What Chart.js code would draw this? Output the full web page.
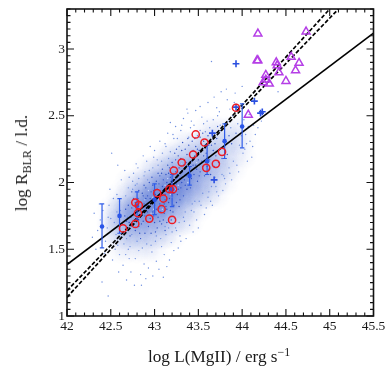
<!DOCTYPE html>
<html lang="en">
<head>
<meta charset="UTF-8">
<title>R-L relation</title>
<script src="https://cdn.jsdelivr.net/npm/chart.js"></script>
<style>
  html, body { margin: 0; padding: 0; background: #fff; }
  #wrap { position: relative; width: 390px; height: 374px; overflow: hidden; font-family: "Liberation Serif", serif; color: #1a1a1a; }
  canvas { position: absolute; left: 0; top: 0; }
  .axisTitle { position: absolute; font-size: 17.2px; white-space: nowrap; line-height: 20px; }
  .axisTitle sup { font-size: 12px; line-height: 0; vertical-align: 6px; }
  .axisTitle sub { font-size: 12px; line-height: 0; vertical-align: -4px; }
  #xTitle { left: 148px; top: 347px; }
  #yTitle { left: 22px; top: 163px; transform: translate(-50%, -50%) rotate(-90deg); }
</style>
</head>
<body>
<div id="wrap">
  <canvas id="chart" width="390" height="374"></canvas>
  <div class="axisTitle" id="xTitle">log L(MgII) / erg s<sup>&minus;1</sup></div>
  <div class="axisTitle" id="yTitle">log R<sub>BLR</sub> / l.d.</div>
</div>
<script>
// cloud density (level 0-9), rows top to bottom
const densityX = [42.2,42.3,42.4,42.5,42.6,42.7,42.8,42.9,43.0,43.1,43.2,43.3,43.4,43.5,43.6,43.7,43.8,43.9,44.0,44.1];
const densityY = [2.5,2.4,2.3,2.2,2.1,2.0,1.9,1.8,1.7,1.6,1.5,1.4];
const densityRows = [
  [0,0,0,0,0,0,0,0,0,0,0,0,0,0,0,0,0,0,0,0],
  [0,0,0,0,0,0,0,0,0,0,0,0,0,0,1,1,1,1,1,0],
  [0,0,0,0,0,0,0,0,0,0,0,1,1,2,2,2,2,2,1,0],
  [0,0,0,0,0,0,0,0,0,1,2,2,3,3,4,3,2,1,1,0],
  [0,0,0,0,0,0,0,1,2,3,4,5,6,5,4,3,2,1,0,0],
  [0,0,0,0,0,1,2,3,5,6,7,7,6,4,3,2,1,0,0,0],
  [0,0,0,0,1,2,4,6,7,8,7,6,4,3,2,1,0,0,0,0],
  [0,0,0,1,3,5,6,7,7,6,5,3,2,1,0,0,0,0,0,0],
  [0,0,0,2,3,5,5,5,4,4,2,2,1,0,0,0,0,0,0,0],
  [0,0,0,1,2,3,3,3,2,2,1,0,0,0,0,0,0,0,0,0],
  [0,0,0,0,1,1,1,1,1,0,0,0,0,0,0,0,0,0,0,0],
  [0,0,0,0,0,0,0,0,0,0,0,0,0,0,0,0,0,0,0,0]
];

// loose dots around the cloud
const outerDots = [[43.65,2.907],[43.47,2.54],[43.71,2.56],[42.95,2.27],[42.51,2.22],[42.87,2.20],[42.58,2.13],[44.41,2.68],[44.00,2.72],[44.09,2.31],[42.47,1.15],[42.40,1.255],[42.85,1.23],
[42.31,1.77],[42.62,2.02],[42.44,1.56],[42.73,1.33],[42.35,1.64],[42.81,2.11],[42.52,1.42],[42.68,1.27],[42.93,1.36],[42.29,1.59],[42.57,1.91],[42.76,2.07],[42.48,1.83],[42.64,1.38],[43.02,1.41],[42.38,1.72],[42.91,2.16],[42.55,1.50],[43.11,1.46],[42.70,1.96],[42.43,1.47],[42.84,1.31],[43.06,2.31],[42.59,1.33],[42.97,1.48],[43.15,2.37],[42.66,2.09],[42.33,1.50],[43.19,1.55],[42.78,1.43],[43.00,2.24],[42.50,1.73],[42.88,1.39],[43.24,2.42],[42.61,1.79],[43.08,1.52],[42.72,1.52],[43.29,1.60],[42.46,1.66],[42.99,2.19],[43.12,2.29],[42.53,1.88],[42.79,2.14],[43.33,2.48],[42.67,1.46],[43.17,1.42],[43.36,1.58],[42.90,1.28],[43.21,2.36],[42.41,1.79],[43.05,1.35],[43.27,1.51],[42.75,1.95],[43.40,1.68],[42.56,1.61],[43.31,2.43],[42.94,2.09],[43.44,1.63],[43.14,1.37],[42.82,2.03],[43.38,2.52],[43.25,1.64],[43.48,1.72],[42.65,1.54],[43.09,2.22],[43.52,2.57],[43.34,1.71],[43.57,1.76],[43.42,2.46],[43.22,1.49],[43.61,2.60],[43.50,1.66],[43.18,2.45],[43.66,1.83],[43.30,1.56],[43.54,2.49],[43.73,1.90],[43.45,1.78],[43.68,2.64],[43.37,2.55],[43.78,1.94],[43.59,1.81],[43.83,2.62],[43.64,1.86],[43.74,2.53],[43.88,2.02],[43.56,2.44],[43.92,2.67],[43.70,1.97],[43.96,2.08],[43.81,1.99],[43.86,2.55],[44.02,2.47],[43.79,2.05],[44.06,2.16],[43.94,2.13],[43.89,2.50],[44.12,2.27],[43.76,2.68],[44.01,2.22],[43.98,2.58],[44.15,2.36],[44.08,2.51],[43.85,2.11],[44.18,2.41],[44.04,2.36],[44.22,2.46],[43.99,2.35],[44.11,2.19],[44.13,2.43],[43.91,2.60],[43.69,2.04],[43.62,1.93],[43.82,2.70],[43.51,1.86],[43.43,1.84],[43.28,1.70],[43.13,1.61],[43.01,1.56],[42.86,1.51],[42.74,1.61],[42.63,1.69],[42.49,1.95],[42.37,1.84],[42.69,1.74],[42.60,1.46],[42.77,1.23],[42.98,1.30],[43.10,1.29],[43.20,1.63],[43.41,2.41],[43.26,2.33],[43.16,2.18],[43.04,2.13],[42.92,2.02],[42.80,1.99],[42.71,2.04],[43.58,2.38],[43.49,2.35],[43.67,2.47],[43.75,2.43],[43.87,2.41],[43.95,2.44],[44.05,2.29],
[42.54,1.70],[42.60,1.86],[42.68,1.58],[42.75,2.01],[42.82,1.49],[42.58,1.53],[42.71,1.43],[42.89,2.08],[42.96,1.53],[43.03,2.17],[43.07,1.58],[43.16,1.66],[43.13,2.27],[43.23,1.73],[43.22,2.33],[43.35,1.78],[43.30,2.39],[43.46,1.86],[43.45,2.43],[43.55,1.92],[43.60,2.46],[43.65,1.97],[43.72,2.50],[43.77,2.06],[43.84,2.46],[43.90,2.16],[43.97,2.28],[44.03,2.25],[44.07,2.42],[43.63,2.41],[43.52,2.39],[43.39,2.34],[43.28,2.27],[43.18,2.23],[43.08,2.16],[42.98,2.11],[42.88,2.05],[42.78,1.98],[42.67,1.90],[42.57,1.78],[42.47,1.74],[42.62,1.59],[42.70,1.50],[42.80,1.56],[42.91,1.54],[43.02,1.60],[43.12,1.67],[43.24,1.66],[43.33,1.74],[43.42,1.79],[43.53,1.83],[43.61,1.89],[43.71,1.93],[43.80,2.03],[43.86,2.07]];

// darker dots inside the cloud
const coreDots = [[42.83,1.79],[43.17,1.88],[42.96,1.93],[43.41,2.19],[43.06,1.84],[42.71,1.70],[43.28,2.11],[43.52,2.08],[42.91,1.71],[43.13,2.06],[43.35,1.98],[42.78,1.64],[43.22,1.83],[43.47,2.27],[43.02,2.01],[42.87,1.90],[43.63,2.17],[43.11,1.77],[42.66,1.75],[43.31,2.24],[43.19,2.01],[42.94,1.81],[43.56,2.31],[43.04,1.74],[43.38,2.07],[42.74,1.81],[43.26,1.91],[43.71,2.33],[42.99,1.94],[43.15,1.96],[42.80,1.73],[43.44,2.13],[43.09,2.10],[42.89,1.62],[43.33,1.90],[43.59,2.22],[43.00,1.83],[43.24,2.17],[42.85,1.85],[43.49,2.01],[43.07,1.92],[42.69,1.66],[43.39,2.28],[43.18,1.79],[43.68,2.12],[42.95,1.73],[43.29,2.03],[43.12,1.87],[42.76,1.88],[43.54,2.16],[43.03,1.66],[43.21,2.12],[42.90,1.96],[43.42,2.03],[43.78,2.26],[43.16,1.93],[42.82,1.67],[43.36,2.15],[43.05,1.99],[43.61,2.35],[42.97,1.86],[43.25,1.85],[42.72,1.60],[43.46,2.20],[43.10,1.72],[43.32,2.08],[42.86,1.77],[43.70,2.20],[43.20,1.94],[43.01,1.91],[42.93,1.67],[43.51,2.24],[43.14,2.00],[42.79,1.81],[43.37,1.95],[43.27,2.20],[43.57,2.05],[42.98,1.78],[43.08,1.69],[43.43,2.31],[42.88,1.84],[43.23,1.99],[42.64,1.62],[43.34,2.17],[43.65,2.28],[43.12,1.64],[42.92,1.90],[43.48,2.10],[43.17,2.11],[43.75,2.39],[43.02,1.80],[42.84,1.58],[43.30,1.96],[43.55,2.37],[42.77,1.76],[43.19,1.72],[43.40,2.11],[43.06,2.05],[42.96,1.62],[43.62,2.10],[43.26,2.06],[42.70,1.83],[43.13,1.82],[43.45,2.06],[42.89,1.75],[43.35,2.25],[43.80,2.32],[43.04,1.89],[43.21,1.78],[43.58,2.26],[42.81,1.88],[43.09,1.97],[43.50,2.17],[42.94,2.00],[43.29,1.87],[43.67,2.24],[43.15,2.13],[42.75,1.68],[43.38,2.33],[43.00,1.70],[43.24,2.08],[43.53,2.29],[42.85,1.69],[43.11,1.95],[43.41,1.96],[42.91,1.83],[43.73,2.15],[43.32,2.30],[43.07,1.78],[42.67,1.80],[43.18,2.04],[43.60,2.12],[42.97,2.04],[43.44,2.24],[43.22,1.92],[42.82,1.94],[43.34,2.02],[43.83,2.21],[43.03,1.95],[43.14,1.70],[43.56,2.20],[42.73,1.74],[43.27,1.95],[42.92,1.78],[43.47,2.13],[43.10,2.02],[43.37,2.21],[42.87,1.71],[43.66,2.36],[43.20,2.15],[42.99,1.75],[43.52,2.34],[43.31,2.00],[43.05,1.81],[42.78,1.85],[43.42,2.16],[43.16,1.85],[43.88,2.29],[42.95,1.88],[43.25,2.25],[43.61,2.19],[43.08,2.07],[42.83,1.62],[43.36,2.05],[43.72,2.42],[43.19,1.97],[43.01,1.63],[43.49,2.25],[42.88,1.98],[43.12,1.91],[43.28,1.82],[43.93,2.37],[43.40,2.02],[42.74,1.93],[43.04,2.07],[43.55,2.12],[43.23,2.22],[42.93,1.85],[43.16,2.07],[43.77,2.18],[43.33,2.13],[42.86,1.92],[43.06,1.71],[43.46,2.33],[43.85,2.35],[43.21,2.05],[43.64,2.06],[42.98,1.98],[43.30,2.18],[43.14,1.80],[42.68,1.71],[43.39,2.04],[43.02,1.87],[43.58,2.15],[43.25,1.99],[42.80,1.79],[43.11,1.84],[43.51,2.05],[42.90,1.88],[43.35,2.10],[43.69,2.29]];

// pale dots that give the dense part its grain
const grainDots = [[43.10,1.93],[42.98,1.89],[43.23,2.03],[42.86,1.82],[43.33,2.05],[43.05,1.95],[43.17,1.98],[42.92,1.75],[43.41,2.09],[43.00,1.86],[43.27,1.98],[42.79,1.77],[43.13,1.90],[43.36,2.12],[42.95,1.83],[43.20,1.89],[43.48,2.15],[43.07,1.86],[42.84,1.75],[43.29,2.09],[43.15,2.03],[42.99,1.80],[43.44,2.18],[43.09,1.80],[42.89,1.87],[43.24,1.95],[43.55,2.22],[43.03,1.78],[43.31,2.14],[42.76,1.71],[43.18,1.91],[42.93,1.94],[43.38,2.00],[43.12,1.98],[43.26,2.14],[42.82,1.83],[43.05,1.87],[43.50,2.12],[43.21,2.00],[42.96,1.77]];

// red circles
const circleX = [42.64,42.78,42.78,42.82,42.81,42.94,43.08,43.10,43.03,43.17,43.21,43.20,43.22,43.31,43.44,43.47,43.57,43.59,43.70,43.77,43.93];
const circleY = [1.656,1.69,1.85,1.83,1.77,1.73,1.80,1.88,1.92,1.95,1.95,1.72,2.09,2.15,2.21,2.36,2.30,2.11,2.14,2.23,2.56];

// blue points with error bars
const binX = [42.4,42.6,42.8,43.0,43.2,43.4,43.6,43.8,44.0];
const binY = [1.67,1.75,1.826,1.87,1.95,2.05,2.16,2.31,2.42];
const binLow = [1.51,1.62,1.72,1.76,1.82,1.98,2.06,2.18,2.26];
const binHigh = [1.84,1.88,1.93,1.99,2.06,2.12,2.28,2.44,2.59];

// blue plus signs
const plusX = [43.66,43.68,43.93,43.93,44.14,44.21,44.23];
const plusY = [2.37,2.02,2.89,2.565,2.61,2.52,2.53];

// purple triangles
const triX = [44.18,44.73,44.17,44.18,44.39,44.40,44.56,44.65,44.61,44.42,44.27,44.24,44.31,44.27,44.50,44.07];
const triY = [3.115,3.13,2.915,2.915,2.90,2.877,2.94,2.895,2.84,2.824,2.805,2.75,2.74,2.77,2.76,2.507];

// fit lines, end points
const solidX = [42,45.5];
const solidY = [1.385,3.12];
const dashAX = [42,45.1];
const dashAY = [1.19,3.3];
const dashBX = [42,45.0];
const dashBY = [1.14,3.3];

const xRange = [42,45.5];
const yRange = [1,3.3];

function pairs(xs, ys) {
  return xs.map((x, i) => ({ x: x, y: ys[i] }));
}
function dots(list) {
  return list.map(d => ({ x: d[0], y: d[1] }));
}

// soft blob per density level, so the grid cells melt into one cloud
function blob(level) {
  const size = 30;
  const c = document.createElement('canvas');
  c.width = c.height = size;
  const g = c.getContext('2d');
  const grad = g.createRadialGradient(size / 2, size / 2, 0, size / 2, size / 2, size / 2);
  grad.addColorStop(0, 'rgba(60,95,205,' + (level * 0.075) + ')');
  grad.addColorStop(1, 'rgba(60,95,205,0)');
  g.fillStyle = grad;
  g.fillRect(0, 0, size, size);
  return c;
}
const blobs = [0,1,2,3,4,5,6,7,8,9].map(blob);

const cloudPoints = [];
const cloudStyles = [];
densityRows.forEach((row, r) => {
  row.forEach((level, c) => {
    if (level > 0) {
      cloudPoints.push({ x: densityX[c], y: densityY[r] });
      cloudStyles.push(blobs[level]);
    }
  });
});

// each bar is low, high, then a gap
const barPoints = [];
binX.forEach((x, i) => {
  barPoints.push({ x: x, y: binLow[i] }, { x: x, y: binHigh[i] }, { x: x, y: null });
});

// pin the plot box, the layout keeps pushing its top edge down
const pinBox = {
  id: 'pinBox',
  afterLayout(chart) {
    const yScale = chart.scales.y;
    const a = chart.chartArea;
    yScale.top = 9;
    yScale.height = yScale.bottom - 9;
    yScale.configure();
    a.top = 9;
    a.height = a.bottom - 9;
  }
};

// inside ticks on all four sides and the frame
const frameTicks = {
  id: 'frameTicks',
  afterDatasetsDraw(chart) {
    const { ctx, chartArea: a, scales } = chart;
    ctx.save();
    ctx.strokeStyle = '#111';
    ctx.lineWidth = 1.1;
    ctx.beginPath();
    for (let i = 0; i <= 35; i++) {
      const px = scales.x.getPixelForValue(42 + i * 0.1);
      const len = i % 5 === 0 ? 7 : 3.5;
      ctx.moveTo(px, a.bottom); ctx.lineTo(px, a.bottom - len);
      ctx.moveTo(px, a.top); ctx.lineTo(px, a.top + len);
    }
    for (let i = 0; i <= 46; i++) {
      const py = scales.y.getPixelForValue(1 + i * 0.05);
      const len = i % 10 === 0 ? 7 : 3.5;
      ctx.moveTo(a.left, py); ctx.lineTo(a.left + len, py);
      ctx.moveTo(a.right, py); ctx.lineTo(a.right - len, py);
    }
    ctx.stroke();
    ctx.lineWidth = 1.6;
    ctx.strokeRect(a.left, a.top, a.right - a.left, a.bottom - a.top);
    ctx.restore();
  }
};

new Chart(document.getElementById('chart'), {
  type: 'scatter',
  data: {
    datasets: [
      { data: pairs(triX, triY), order: 1, pointStyle: 'triangle', pointRadius: 4.6, borderColor: '#b53fe6', borderWidth: 1.5, backgroundColor: 'rgba(0,0,0,0)' },
      { data: pairs(circleX, circleY), order: 2, pointStyle: 'circle', pointRadius: 3.6, borderColor: '#ee1c25', borderWidth: 1.5, backgroundColor: 'rgba(0,0,0,0)' },
      { data: pairs(plusX, plusY), order: 3, pointStyle: 'cross', pointRadius: 3.4, borderColor: '#2a4fe0', borderWidth: 1.6 },
      { data: pairs(binX, binY), order: 4, pointRadius: 2.3, backgroundColor: '#2a55e8', borderWidth: 0 },
      { type: 'line', data: barPoints, order: 5, spanGaps: false, borderColor: '#2f5ce8', borderWidth: 1.2, pointStyle: 'line', pointRadius: 2.2, pointBorderColor: '#2f5ce8', pointBorderWidth: 1.2 },
      { type: 'line', data: pairs(solidX, solidY), order: 6, borderColor: '#000', borderWidth: 1.6, pointRadius: 0 },
      { type: 'line', data: pairs(dashAX, dashAY), order: 7, borderColor: '#000', borderWidth: 1.7, borderDash: [4, 2], pointRadius: 0 },
      { type: 'line', data: pairs(dashBX, dashBY), order: 8, borderColor: '#000', borderWidth: 1.7, borderDash: [4, 2], pointRadius: 0 },
      { data: dots(grainDots), order: 9, pointRadius: 0.7, backgroundColor: '#c7d4f4', borderWidth: 0 },
      { data: dots(coreDots), order: 10, pointRadius: 0.7, backgroundColor: '#2f52c4', borderWidth: 0 },
      { data: dots(outerDots), order: 11, pointRadius: 0.7, backgroundColor: '#6f8fe0', borderWidth: 0 },
      { data: cloudPoints, order: 12, pointStyle: cloudStyles, pointRadius: 15, borderWidth: 0 }
    ]
  },
  options: {
    responsive: false,
    animation: false,
    events: [],
    layout: { padding: { left: 0, right: 16.5, top: 9, bottom: 0 } },
    plugins: { legend: { display: false }, tooltip: { enabled: false } },
    scales: {
      x: {
        type: 'linear', min: xRange[0], max: xRange[1],
        afterFit(scale) { scale.height = 58; },
        grid: { display: false, drawTicks: false },
        border: { display: false },
        ticks: { stepSize: 0.5, includeBounds: false, autoSkip: false, maxRotation: 0, padding: 2, color: '#1a1a1a', font: { family: 'Liberation Serif', size: 13.5 }, callback: v => String(v) }
      },
      y: {
        type: 'linear', min: yRange[0], max: yRange[1],
        afterFit(scale) { scale.width = 67; },
        grid: { display: false, drawTicks: false },
        border: { display: false },
        ticks: { stepSize: 0.5, includeBounds: false, autoSkip: false, padding: 2, color: '#1a1a1a', font: { family: 'Liberation Serif', size: 13.5 }, callback: v => String(v) }
      }
    }
  },
  plugins: [pinBox, frameTicks]
});
</script>
</body>
</html>
